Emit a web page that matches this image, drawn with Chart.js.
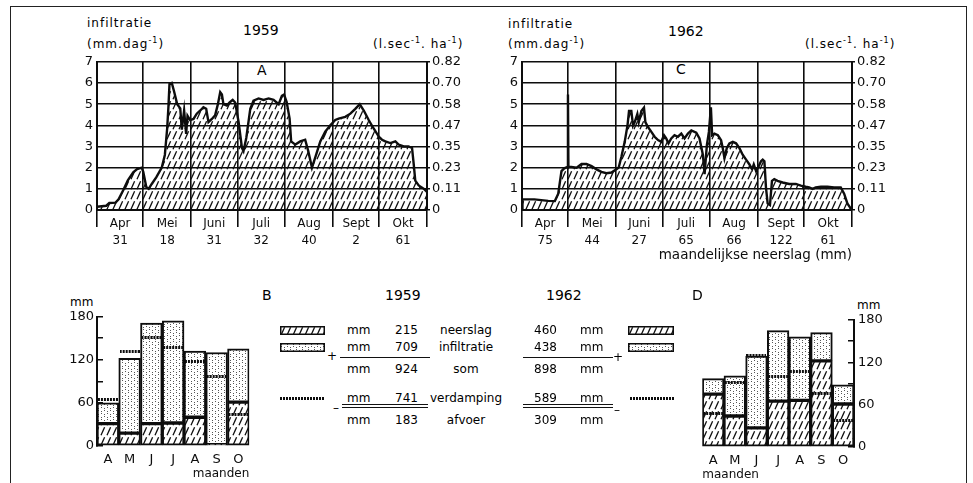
<!DOCTYPE html>
<html lang="nl">
<head>
<meta charset="UTF-8">
<title>Infiltratie 1959 en 1962</title>
<script src="https://cdn.jsdelivr.net/npm/chart.js"></script>
<style>
  body {
    margin: 0;
    width: 973px;
    height: 483px;
    overflow: hidden;
    position: relative;
    background: #fff;
    color: #000;
    font-family: "DejaVu Sans", sans-serif;
  }
  .frame {
    position: absolute;
    left: 10px; top: 6px;
    width: 955px; height: 500px;
    border: 1.5px solid #222;
  }
  canvas.chart { position: absolute; }
  .t {
    position: absolute;
    font-size: 12px;
    line-height: 1;
    white-space: nowrap;
    transform: translateY(-50%);
  }
  .t sup { font-size: 8px; vertical-align: 5px; }
  .big { font-size: 14px; }
  .sp { letter-spacing: 1px; }
  .r { text-align: right; }
  .rule { position: absolute; height: 0; border-top: 1.5px solid #111; }
  canvas.sw { position: absolute; }
</style>
</head>
<body>
<div class="frame"></div>

<!-- A: 1959 -->
<div class="t sp" style="left:87px;top:23px">infiltratie</div>
<div class="t sp" style="left:87px;top:43px">(mm.dag<sup>-1</sup>)</div>
<div class="t big" style="left:243px;top:30px">1959</div>
<div class="t sp" style="left:373px;top:43px">(l.sec<sup>-1</sup>. ha<sup>-1</sup>)</div>
<div class="t big" style="left:257px;top:70px">A</div>
<canvas class="chart" id="chartA" width="440" height="215" style="left:40px;top:50px"></canvas>

<!-- C: 1962 -->
<div class="t sp" style="left:508px;top:24px">infiltratie</div>
<div class="t sp" style="left:508px;top:43px">(mm.dag<sup>-1</sup>)</div>
<div class="t big" style="left:668px;top:31px">1962</div>
<div class="t sp" style="left:805px;top:43px">(l.sec<sup>-1</sup>. ha<sup>-1</sup>)</div>
<div class="t big" style="left:676px;top:69px">C</div>
<canvas class="chart" id="chartC" width="440" height="215" style="left:465px;top:50px"></canvas>

<!-- B and D: monthly balance -->
<div class="t" style="left:70px;top:302px">mm</div>
<canvas class="chart" id="chartB" width="220" height="186" style="left:40px;top:296px"></canvas>
<div class="t" style="left:857px;top:305px">mm</div>
<canvas class="chart" id="chartD" width="240" height="183" style="left:690px;top:300px"></canvas>

<!-- balance table -->
<div class="t big" style="left:262px;top:295px">B</div>
<div class="t big" style="left:385px;top:295px">1959</div>
<div class="t big" style="left:546px;top:295px">1962</div>
<div class="t big" style="left:692px;top:295px">D</div>

<canvas class="sw" id="swHatchL" width="45" height="9" style="left:280px;top:326px"></canvas>
<canvas class="sw" id="swDotL" width="45" height="9" style="left:280px;top:343px"></canvas>
<canvas class="sw" id="swEvapL" width="45" height="3" style="left:280px;top:397px"></canvas>
<canvas class="sw" id="swHatchR" width="46" height="9" style="left:628px;top:326px"></canvas>
<canvas class="sw" id="swDotR" width="46" height="9" style="left:628px;top:343px"></canvas>
<canvas class="sw" id="swEvapR" width="45" height="3" style="left:630px;top:397px"></canvas>

<div class="t" style="left:327px;top:356px">+</div>
<div class="t" style="left:333px;top:408px">–</div>
<div class="t" style="left:613px;top:357px">+</div>
<div class="t" style="left:614px;top:410px">–</div>

<div class="rule" style="left:340px;top:357px;width:90px"></div>
<div class="rule" style="left:523px;top:357px;width:90px"></div>
<div class="rule" style="left:342px;top:404px;width:86px"></div>
<div class="rule" style="left:342px;top:407px;width:86px"></div>
<div class="rule" style="left:523px;top:404px;width:90px"></div>
<div class="rule" style="left:523px;top:407px;width:90px"></div>

<div id="table"></div>

<script>
// months shown on the daily infiltration charts
const monthNames = ['Apr', 'Mei', 'Juni', 'Juli', 'Aug', 'Sept', 'Okt'];
const monthDays = [30, 31, 30, 31, 31, 30, 31];
const lsecTicks = ['0', '0.11', '0.23', '0.35', '0.47', '0.58', '0.70', '0.82'];

// monthly precipitation (mm), also the hatched part of the bars
const neerslag1959 = [31, 18, 31, 32, 40, 2, 61];
const neerslag1962 = [75, 44, 27, 65, 66, 122, 61];

// daily infiltration 1959 (day since 1 April, mm/day)
const dayA = [0, 6, 8, 12, 14, 17, 20, 23.5, 26, 29, 30, 32, 33.5, 35.5, 38.5, 42, 44, 45.5, 46.3, 47,
  48.5, 50, 52, 54, 55, 56.5, 57.8, 58.7, 60.4, 62.6, 64.7, 67, 69, 70.8, 72.3, 74.5, 76.6, 78.4, 79.9, 81,
  82, 84.2, 86, 88, 89.6, 91.8, 94, 95, 96.8, 99.4, 101.5, 104.8, 108, 111.3, 114.5, 117.8, 119.9, 121.3, 123, 124.9,
  125.9, 128.6, 131.8, 135, 137, 139.4, 141.5, 144.8, 148, 151.3, 154.5, 156.7, 161, 164.3, 167.5, 170.4, 173, 176.2, 179.4, 182.7,
  184.8, 187, 190.2, 193.5, 195.6, 198.9, 202, 204.3, 205.4, 206.4, 208.6, 212, 214];
const infA = [0.15, 0.2, 0.33, 0.35, 0.5, 0.93, 1.4, 1.78, 1.93, 2.0, 1.8, 1.08, 1.0, 1.23, 1.55, 2.0, 2.6, 3.85, 4.85, 5.95,
  6.0, 5.6, 5.0, 4.8, 3.8, 4.7, 3.6, 4.45, 4.25, 4.3, 4.55, 4.7, 4.85, 4.78, 4.15, 4.3, 4.47, 5.0, 5.57, 5.46,
  5.0, 4.93, 5.08, 5.2, 5.08, 4.17, 2.93, 2.78, 3.4, 4.78, 5.16, 5.27, 5.2, 5.27, 5.2, 5.0, 5.39, 5.45, 5.1, 4.32,
  3.24, 3.09, 3.24, 3.32, 2.78, 2.0, 2.47, 3.24, 3.7, 4.0, 4.25, 4.32, 4.4, 4.55, 4.78, 5.0, 4.7, 4.25, 3.85, 3.47,
  3.32, 3.24, 3.16, 3.24, 3.09, 3.0, 3.0, 2.93, 2.16, 1.39, 1.16, 1.0, 0.85];

// daily infiltration 1962
const dayC = [0, 0.3, 8, 17, 21.3, 23.5, 25.6, 27.4, 29.5, 29.8, 30.1, 32, 35.4, 38.6, 41.8, 45.1, 48.3, 51.5, 54.8, 58,
  61.2, 62.7, 64.5, 66.6, 68.4, 69.4, 70.9, 72, 73.1, 74.8, 75.7, 77.4, 79.1, 80, 81.7, 83.9, 86, 88.2, 90.3, 92.1,
  93.5, 95, 96.8, 98.9, 101.1, 103.3, 105.4, 107.6, 109.8, 113, 115.1, 117.3, 118.4, 119.9, 121.2, 122.5, 123.3, 124.8, 127, 129.1,
  130.2, 131.3, 132.8, 134.5, 136.7, 138.8, 141, 143.1, 145.3, 147.5, 149.2, 150.3, 151.8, 153.5, 155, 156.1, 157.2, 158.2, 159.3, 160.8,
  162.1, 163.6, 165.7, 169, 173.3, 177.6, 180.8, 184, 186.2, 188.4, 190.5, 193.8, 198.1, 202.4, 206.7, 208.9, 211, 213.1, 214];
const infC = [0, 0.5, 0.5, 0.43, 0.42, 0.77, 1.84, 1.97, 2.03, 5.45, 2.03, 2.03, 2.0, 2.17, 2.17, 2.07, 1.92, 1.8, 1.74, 1.77,
  1.92, 2.0, 2.53, 3.22, 3.99, 4.68, 4.68, 3.99, 4.15, 4.53, 4.15, 4.68, 4.84, 4.15, 3.92, 3.69, 3.46, 3.3, 3.22, 3.53,
  3.38, 3.15, 3.38, 3.53, 3.46, 3.61, 3.38, 3.61, 3.76, 3.65, 3.38, 2.61, 1.69, 3.07, 3.69, 4.85, 3.53, 3.61, 3.53, 3.3,
  2.92, 2.45, 2.92, 3.15, 3.22, 3.15, 2.92, 2.61, 2.38, 2.15, 1.92, 2.15, 1.84, 2.07, 2.3, 2.38, 2.3, 1.07, 0.31, 0.23,
  1.38, 1.46, 1.38, 1.3, 1.23, 1.23, 1.15, 1.1, 1.07, 1.0, 1.07, 1.1, 1.1, 1.07, 1.07, 0.77, 0.31, 0.08, 0];

// monthly balance (mm)
const barMonths = ['A', 'M', 'J', 'J', 'A', 'S', 'O'];
const infiltratie1959 = [29, 104, 140, 142, 92, 128, 74];
const verdamping1959 = [64, 131, 151, 137, 118, 96, 44];
const infiltratie1962 = [22, 57, 102, 100, 90, 40, 27];
const verdamping1962 = [47, 91, 130, 100, 107, 76, 38];

// yearly totals for the table
const tableRows = ['neerslag', 'infiltratie', 'som', 'verdamping', 'afvoer'];
const totals1959 = [215, 709, 924, 741, 183];
const totals1962 = [460, 438, 898, 589, 309];

const INK = '#0d0d0d';
const FONT = "'DejaVu Sans', sans-serif";
Chart.defaults.font.family = FONT;
Chart.defaults.color = INK;

function hatchPattern(bg) {
  const c = document.createElement('canvas');
  c.width = 6; c.height = 10;
  const g = c.getContext('2d');
  if (bg) { g.fillStyle = bg; g.fillRect(0, 0, 6, 10); }
  g.strokeStyle = INK; g.lineWidth = 1.3;
  g.beginPath(); g.moveTo(1, 9.2); g.lineTo(4.6, 1.2); g.stroke();
  return g.createPattern(c, 'repeat');
}

function stipplePattern() {
  const c = document.createElement('canvas');
  c.width = 6; c.height = 6;
  const g = c.getContext('2d');
  g.fillStyle = '#fff'; g.fillRect(0, 0, 6, 6);
  g.fillStyle = '#555';
  g.fillRect(1, 1, 1, 1); g.fillRect(1, 3, 1, 1);
  g.fillRect(4, 4, 1, 1); g.fillRect(4, 0, 1, 1);
  return g.createPattern(c, 'repeat');
}

// thick dotted stroke used for evaporation
function evapMark(w) {
  const c = document.createElement('canvas');
  c.width = w; c.height = 3;
  const g = c.getContext('2d');
  g.fillStyle = INK;
  for (let x = 0; x < w; x += 3) g.fillRect(x, 0, 2, 3);
  return c;
}

function infiltrationChart(id, days, vals, rain, xTitle) {
  const bounds = [0];
  monthDays.forEach(d => bounds.push(bounds[bounds.length - 1] + d));
  const mids = bounds.slice(0, -1).map((b, i) => (b + bounds[i + 1]) / 2);
  return new Chart(document.getElementById(id), {
    type: 'line',
    data: {
      datasets: [{
        data: days.map((d, i) => ({ x: d, y: vals[i] })),
        borderColor: INK,
        borderWidth: 2.4,
        backgroundColor: hatchPattern(),
        fill: 'origin',
        pointRadius: 0,
        tension: 0
      }]
    },
    options: {
      responsive: false,
      animation: false,
      events: [],
      layout: { padding: { top: 8 } },
      plugins: { legend: { display: false }, tooltip: { enabled: false } },
      scales: {
        x: {
          type: 'linear', min: 0, max: 214, position: 'bottom', weight: 0,
          afterBuildTicks: s => { s.ticks = bounds.map(v => ({ value: v })); },
          afterFit: s => { s.height = 2; },
          ticks: { display: false },
          grid: { color: INK, lineWidth: 1.6, tickLength: 17 },
          border: { color: INK, width: 2 }
        },
        xl: {
          type: 'linear', min: 0, max: 214, position: 'bottom', weight: 1,
          afterBuildTicks: s => { s.ticks = mids.map(v => ({ value: v })); },
          afterFit: s => { s.height = 53; },
          grid: { display: false },
          border: { display: false },
          ticks: {
            autoSkip: false, maxRotation: 0, padding: -5,
            font: { size: 12, lineHeight: 1.45 },
            callback: (v, i) => [monthNames[i], String(rain[i])]
          },
          title: {
            display: !!xTitle, text: xTitle || '', align: 'end',
            font: { size: 13.5 }, padding: { top: 0, bottom: 1 }
          }
        },
        y: {
          min: 0, max: 7, position: 'left',
          afterFit: s => { s.width = 57; },
          ticks: { stepSize: 1, padding: 4, font: { size: 13 } },
          grid: { color: INK, lineWidth: 1.6, drawTicks: false },
          border: { color: INK, width: 2 }
        },
        y2: {
          min: 0, max: 7, position: 'right',
          afterFit: s => { s.width = 53; },
          ticks: { stepSize: 1, padding: 2, font: { size: 13 }, callback: v => lsecTicks[v] },
          grid: { drawOnChartArea: false, tickLength: 3, color: INK, lineWidth: 1.6 },
          border: { color: INK, width: 2 }
        }
      }
    }
  });
}

function balanceChart(id, neer, infil, evap, side, pad) {
  const bar = { borderColor: INK, borderWidth: 2, borderSkipped: false,
                categoryPercentage: 1, barPercentage: 1, stack: 'som', order: 1 };
  return new Chart(document.getElementById(id), {
    type: 'bar',
    data: {
      labels: barMonths,
      datasets: [
        Object.assign({ label: 'neerslag', data: neer, backgroundColor: hatchPattern('#fff') }, bar),
        Object.assign({ label: 'infiltratie', data: infil, backgroundColor: stipplePattern() }, bar),
        { type: 'line', label: 'verdamping', data: evap, showLine: false, stack: 'evap', order: 0,
          pointStyle: evapMark(20), pointRadius: 5 }
      ]
    },
    options: {
      responsive: false,
      animation: false,
      events: [],
      layout: { padding: pad },
      plugins: { legend: { display: false }, tooltip: { enabled: false } },
      scales: {
        x: {
          stacked: true,
          afterFit: s => { s.height = 36; },
          grid: { display: false },
          border: { display: false },
          ticks: { padding: -2, font: { size: 13 } },
          title: {
            display: true, text: 'maanden', align: side === 'left' ? 'end' : 'start',
            font: { size: 12 }, padding: { top: 0, bottom: 1 }
          }
        },
        y: {
          stacked: true, min: 0, max: 180, position: side,
          afterFit: s => { s.width = side === 'left' ? 57 : 76; },
          ticks: { stepSize: 30, padding: side === 'left' ? 9 : 10, font: { size: 13 },
                   callback: v => (v % 60 === 0 ? v : '') },
          grid: { drawOnChartArea: false, tickLength: -6, color: INK, lineWidth: 1.5 },
          border: { color: INK, width: 2 }
        }
      }
    }
  });
}

infiltrationChart('chartA', dayA, infA, neerslag1959);
infiltrationChart('chartC', dayC, infC, neerslag1962, 'maandelijkse neerslag (mm)');
balanceChart('chartB', neerslag1959, infiltratie1959, verdamping1959, 'left', { top: 20.5, right: 10.7 });
balanceChart('chartD', neerslag1962, infiltratie1962, verdamping1962, 'right', { top: 20, left: 12.3 });

// legend swatches beside the table
function swatch(id, fill) {
  const el = document.getElementById(id);
  const g = el.getContext('2d');
  g.fillStyle = fill; g.fillRect(0, 0, el.width, el.height);
  g.strokeStyle = INK; g.lineWidth = 1.5;
  g.strokeRect(0.75, 0.75, el.width - 1.5, el.height - 1.5);
}
swatch('swHatchL', hatchPattern('#fff'));
swatch('swHatchR', hatchPattern('#fff'));
swatch('swDotL', stipplePattern());
swatch('swDotR', stipplePattern());
['swEvapL', 'swEvapR'].forEach(id => {
  const el = document.getElementById(id);
  el.getContext('2d').drawImage(evapMark(45), 0, 0);
});

// table text
const rowY = [330, 347, 369, 398, 420];
const table = document.getElementById('table');
tableRows.forEach((name, i) => {
  const y = rowY[i];
  table.insertAdjacentHTML('beforeend',
    `<div class="t" style="left:347px;top:${y}px">mm</div>` +
    `<div class="t r" style="right:${973 - 418}px;top:${y}px">${totals1959[i]}</div>` +
    `<div class="t" style="left:466px;top:${y}px;transform:translate(-50%,-50%)">${name}</div>` +
    `<div class="t r" style="right:${973 - 557}px;top:${y}px">${totals1962[i]}</div>` +
    `<div class="t" style="left:580px;top:${y}px">mm</div>`);
});
</script>
</body>
</html>
